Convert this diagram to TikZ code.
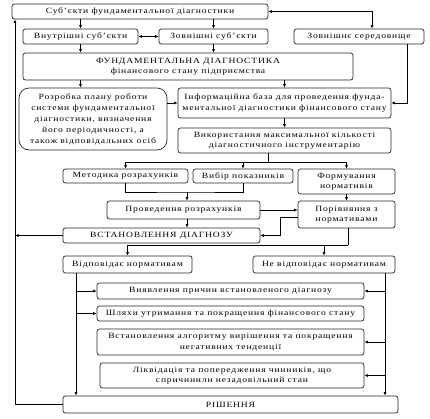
\documentclass[tikz,border=0pt]{standalone}
\usepackage{fontspec}
\setmainfont{Liberation Serif}[FakeStretch=1.2,LetterSpace=10]
\usetikzlibrary{arrows.meta}

\begin{document}
\begin{tikzpicture}[x=1pt,y=-1pt,>={Latex[length=3.5pt,width=3pt]},line width=0.6pt,
	blk/.style={draw=black!85,line width=0.7pt,rounded corners=2.5pt,align=center,inner sep=0pt,
		font=\fontsize{8}{10.5}\selectfont},
	]
	\useasboundingbox (0,0) rectangle (430,418);
	
	\node[blk,minimum width=256,minimum height=15] (subj) at (140,11.5) {Суб’єкти фундаментальної діагностики};
	\node[blk,minimum width=115,minimum height=15] (vnut) at (80.5,36.5) {Внутрішні суб’єкти};
	\node[blk,minimum width=109,minimum height=15] (zovn) at (213.5,36.5) {Зовнішні суб’єкти};
	\node[blk,minimum width=130,minimum height=15] (sered) at (359,36.5) {Зовнішнє середовище};
	\node[blk,minimum width=330,minimum height=27] (fund) at (188,66.5) {ФУНДАМЕНТАЛЬНА ДІАГНОСТИКА\\фінансового стану підприємства};
	\node[blk,rounded corners=10pt,minimum width=148,minimum height=62,font=\fontsize{8}{11}\selectfont] (plan) at (93,119)
		{Розробка плану роботи\\системи фундаментальної\\діагностики, визначення\\його періодичності, а\\також відповідальних осіб};
	\node[blk,minimum width=213,minimum height=30] (baza) at (284.5,103) {Інформаційна база для проведення фунда-\\ментальної діагностики фінансового стану};
	\node[blk,minimum width=213,minimum height=25] (vykor) at (284.5,140.5) {Використання максимальної кількості\\діагностичного інструментарію};
	\node[blk,minimum width=125,minimum height=14] (metod) at (125.5,176) {Методика розрахунків};
	\node[blk,minimum width=100,minimum height=14] (vybir) at (243,176) {Вибір показників};
	\node[blk,minimum width=97,minimum height=25] (norm) at (346.5,181.5) {Формування\\нормативів};
	\node[blk,minimum width=153,minimum height=18] (rozr) at (183.5,210) {Проведення розрахунків};
	\node[blk,minimum width=97,minimum height=27] (porivn) at (346.5,214.5) {Порівняння з\\нормативами};
	\node[blk,minimum width=197,minimum height=15] (diagn) at (161.5,235.5) {ВСТАНОВЛЕННЯ ДІАГНОЗУ};
	\node[blk,minimum width=129,minimum height=17] (vidp) at (127.5,264.5) {Відповідає нормативам};
	\node[blk,minimum width=142,minimum height=17] (nevidp) at (324,264.5) {Не відповідає нормативам};
	\node[blk,minimum width=267,minimum height=16] (prych) at (230.5,291) {Виявлення причин встановленого діагнозу};
	\node[blk,minimum width=267,minimum height=15] (shlyakh) at (230.5,313.5) {Шляхи утримання та покращення фінансового стану};
	\node[blk,minimum width=267,minimum height=26] (alhor) at (230.5,342) {Встановлення алгоритму вирішення та покращення\\негативних тенденції};
	\node[blk,minimum width=264,minimum height=25] (likv) at (232,375.5) {Ліквідація та попередження чинників, що\\спричинили незадовільний стан};
	\node[blk,minimum width=335,minimum height=17] (rish) at (230.5,404.5) {РІШЕННЯ};
	
	\coordinate (spine) at (15,0);
	\coordinate (bus) at (268,162);
	\coordinate (join) at (187,192);
	\coordinate (kink) at (280,217);
	\coordinate (fork) at (348,245);
	\coordinate (lrail) at (76,0);
	\coordinate (rrail) at (385,0);
	
	\foreach \n in {vnut,zovn}\draw[->] (subj.south -| \n) -- (\n.north);
	\foreach \n in {vnut,zovn}\draw[->] (\n.south) -- (fund.north -| \n);
	\draw[<->] (vnut) -- (zovn);
	\draw[<->] (subj.east) -| ([xshift=13]sered.north);
	\draw[->] ([xshift=48]sered.south) |- (baza.east);
	\draw[->] (fund.south -| vnut) -- (plan.north -| vnut);
	\draw[->] (fund.south -| baza) -- (baza.north);
	\draw[->] (plan.east |- baza.west) -- (baza.west);
	\draw[->] (baza) -- (vykor);
	\draw (vykor.south -| bus) -- (bus);
	\foreach \n in {metod,vybir,norm}\draw[->] (bus) -| (\n.north);
	\draw (metod.south) |- (join) -| (vybir.south);
	\draw[->] (join) -- (rozr.north -| join);
	\draw[->] (norm) -- (porivn);
	\draw[->] (rozr.east) -- (porivn.west |- rozr.east);
	\draw[->] (rozr.south -| join) -- (diagn.north -| join);
	\draw[->] (porivn.west |- kink) -- (kink) |- (diagn.east);
	\draw[->] (diagn.west) -- (diagn.west -| spine);
	\draw (porivn.south -| fork) -- (fork);
	\foreach \n in {vidp,nevidp}\draw[->] (fork) -| (\n.north);
	\draw[->] (vidp.south -| lrail) -- (rish.north -| lrail);
	\draw[->] (nevidp.south -| rrail) -- (rish.north -| rrail);
	\foreach \n in {prych,shlyakh}\draw[->] (\n.west -| lrail) -- (\n.west);
	\foreach \n in {prych,alhor,likv}\draw[->] (\n.east -| rrail) -- (\n.east);
	\draw[->] (rish.west) -| (subj.south -| spine);
	
\end{tikzpicture}
\end{document}
